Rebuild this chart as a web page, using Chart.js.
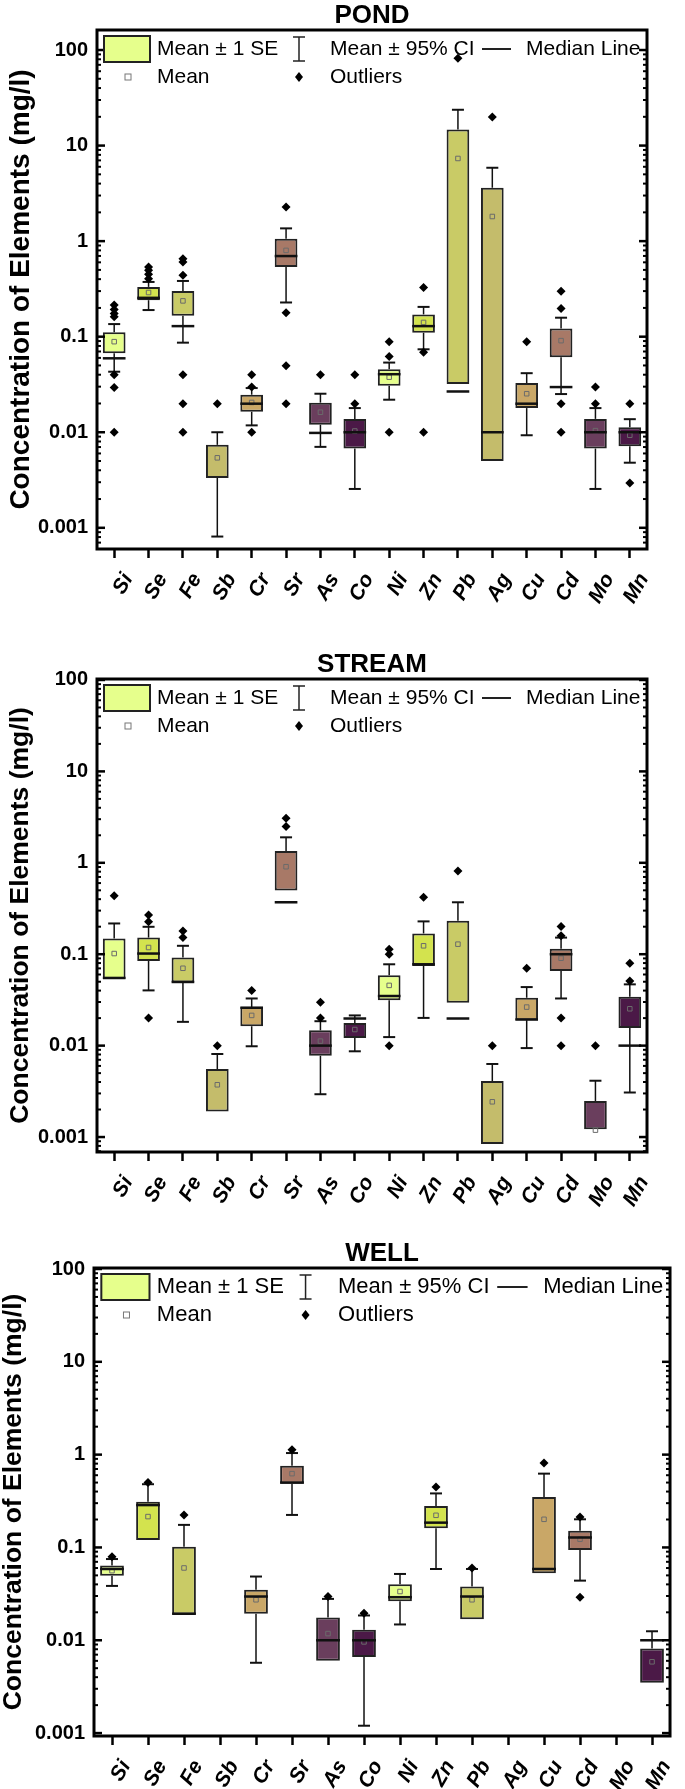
<!DOCTYPE html>
<html lang="en">
<head>
<meta charset="UTF-8">
<title>Concentration of Elements - Pond, Stream, Well</title>
<script src="https://cdn.jsdelivr.net/npm/chart.js"></script>
<style>
  body { margin: 0; background: #fff; }
  #wrap { position: relative; width: 685px; height: 1789px; }
  canvas { position: absolute; left: 0; }
</style>
</head>
<body>
<div id="wrap">
  <canvas id="pond" width="685" height="630" style="top:0px"></canvas>
  <canvas id="stream" width="685" height="600" style="top:630px"></canvas>
  <canvas id="well" width="685" height="559" style="top:1230px"></canvas>
</div>
<script>
const elements = ["Si", "Se", "Fe", "Sb", "Cr", "Sr", "As", "Co", "Ni", "Zn", "Pb", "Ag", "Cu", "Cd", "Mo", "Mn"];
const boxColors = ["#e6ff8c", "#d3e34e", "#c9cb66", "#c4bc6b", "#c9a767", "#a87967", "#6a3e5d", "#4b1947",
                   "#e6ff8c", "#d3e34e", "#c9cb66", "#c4bc6b", "#c9a767", "#a87967", "#6a3e5d", "#4b1947"];

// POND (mg/l)
const pondBoxLo   = [0.067, 0.241, 0.1655, 0.00332, 0.0164, 0.536, 0.012, 0.00676, 0.0306, 0.11, 0.0319, 0.00499, 0.0179, 0.0609, 0.00676, 0.00715];
const pondBoxHi   = [0.111, 0.332, 0.301, 0.00738, 0.0247, 1.06, 0.0204, 0.0138, 0.0457, 0.171, 14.7, 3.62, 0.0327, 0.122, 0.0138, 0.0113];
const pondMedian  = [0.0594, 0.255, 0.129, null, 0.0199, 0.698, 0.00984, 0.01, 0.0405, 0.129, 0.0267, 0.01, 0.0199, 0.0297, 0.01, 0.01];
const pondWhiskLo = [0.043, 0.19, 0.0866, 0.00081, 0.0118, 0.228, 0.00703, 0.00255, 0.0219, 0.0738, null, null, 0.0093, 0.0251, 0.00255, 0.0048];
const pondWhiskHi = [0.1355, 0.374, 0.383, 0.01, 0.029, 1.36, 0.0253, 0.0179, 0.0536, 0.205, 23.7, 5.86, 0.0415, 0.158, 0.0179, 0.0137];
const pondMean    = [0.0887, 0.29, 0.237, 0.0054, 0.0205, 0.8, 0.0162, 0.0103, 0.0377, 0.141, 7.33, 1.81, 0.0253, 0.0909, 0.0104, 0.0093];
const pondOutliers = [
  [0.214, 0.193, 0.175, 0.162, 0.04, 0.0294, 0.01], [0.536, 0.495, 0.449, 0.405], [0.655, 0.604, 0.439, 0.04, 0.0199, 0.01],
  [0.0199], [0.04, 0.0297, 0.01], [2.28, 0.178, 0.0495, 0.0199], [0.04], [0.04, 0.0199], [0.0887, 0.0619, 0.01],
  [0.327, 0.0687, 0.01], [81.9], [19.9], [0.0887], [0.299, 0.197, 0.0199, 0.01], [0.0297, 0.0199], [0.0199, 0.00294]
];

// STREAM (mg/l)
const streamBoxLo   = [0.0531, 0.0845, 0.0489, 0.0019, 0.0163, 0.497, 0.00776, 0.0121, 0.0313, 0.0744, 0.0294, 0.00084, 0.019, 0.0656, 0.00122, 0.0156];
const streamBoxHi   = [0.1486, 0.152, 0.0919, 0.00555, 0.0264, 1.35, 0.0147, 0.0177, 0.0588, 0.1686, 0.232, 0.0041, 0.0334, 0.115, 0.00248, 0.0343];
const streamMedian  = [0.055, 0.1017, 0.0497, null, 0.026, 0.37, 0.01, 0.0198, 0.0349, 0.0776, 0.0198, null, 0.0193, 0.1, null, 0.01];
const streamWhiskLo = [null, 0.0402, 0.0182, null, 0.00984, null, 0.00294, 0.00867, 0.0124, 0.0201, null, null, 0.0094, 0.0328, null, 0.00307];
const streamWhiskHi = [0.217, 0.1995, 0.1236, 0.0081, 0.0328, 1.9, 0.0185, 0.0214, 0.0776, 0.2286, 0.37, 0.0063, 0.0437, 0.152, 0.00413, 0.0468];
const streamMean    = [0.1017, 0.1184, 0.0702, 0.00373, 0.0214, 0.906, 0.0112, 0.015, 0.0456, 0.1236, 0.1288, 0.00243, 0.0264, 0.0904, 0.00119, 0.0253];
const streamOutliers = [
  [0.437], [0.268, 0.227, 0.0201], [0.18, 0.152], [0.01], [0.0402], [3.07, 2.49], [0.0299, 0.0201], [],
  [0.1135, 0.1, 0.01], [0.42], [0.813], [0.01], [0.0702], [0.201, 0.159, 0.0201, 0.01], [0.01], [0.0796, 0.0509]
];

// WELL (mg/l) - no data for Sb, Ag, Mo
const wellBoxLo   = [0.0497, 0.12, 0.019, null, 0.0193, 0.485, 0.006, 0.0066, 0.0264, 0.161, 0.0168, null, 0.0526, 0.0936, null, 0.00349];
const wellBoxHi   = [0.0637, 0.311, 0.1017, null, 0.0351, 0.761, 0.0176, 0.013, 0.0401, 0.279, 0.0379, null, 0.349, 0.151, null, 0.00815];
const wellMedian  = [0.0586, 0.286, 0.0193, null, 0.0296, 0.5, 0.01, 0.01, 0.0291, 0.185, 0.0296, null, 0.0586, 0.128, null, 0.01];
const wellWhiskLo = [0.0385, null, null, null, 0.00572, 0.224, null, 0.0012, 0.0148, 0.0586, null, null, null, 0.0439, null, null];
const wellWhiskHi = [0.075, 0.48, 0.175, null, 0.0486, 1.04, 0.0279, 0.0185, 0.0518, 0.382, 0.0586, null, 0.624, 0.201, null, 0.0125];
const wellMean    = [0.0562, 0.215, 0.0601, null, 0.0273, 0.624, 0.0118, 0.0096, 0.0335, 0.222, 0.0273, null, 0.201, 0.1227, null, 0.00586];
const wellOutliers = [
  [0.0794], [0.5], [0.224], [], [], [1.13], [0.0296], [0.0196], [], [0.447], [0.06], [], [0.813], [0.213, 0.0291], [], []
];

const FONT = '"Liberation Sans", Arial, sans-serif';

function decadeLabel(v) {
  const e = Math.log10(v);
  const r = Math.round(e);
  if (Math.abs(e - r) > 1e-6) return '';
  return r >= 0 ? String(Math.pow(10, r)) : Math.pow(10, r).toFixed(-r);
}

function line(ctx, x1, y1, x2, y2) {
  ctx.beginPath();
  ctx.moveTo(x1, y1);
  ctx.lineTo(x2, y2);
  ctx.stroke();
}

// whiskers, median lines, frame, inward log ticks, title and legend
const boxParts = {
  id: 'boxParts',
  beforeDatasetsDraw(chart, args, o) {
    const {ctx, chartArea} = chart;
    const x = chart.scales.x, y = chart.scales.y;
    ctx.save();
    ctx.beginPath();
    ctx.rect(chartArea.left, chartArea.top, chartArea.width, chartArea.height);
    ctx.clip();
    ctx.strokeStyle = '#111';
    o.whiskHi.forEach((hi, i) => {
      const px = x.getPixelForValue(i);
      const ends = [[o.boxHi[i], hi], [o.boxLo[i], o.whiskLo[i]]];
      ends.forEach(([from, to]) => {
        if (from == null || to == null) return;
        ctx.lineWidth = 1.5;
        line(ctx, px, y.getPixelForValue(from), px, y.getPixelForValue(to));
        ctx.lineWidth = 2;
        line(ctx, px - 6, y.getPixelForValue(to), px + 6, y.getPixelForValue(to));
      });
    });
    ctx.restore();
  },
  afterDatasetsDraw(chart, args, o) {
    const {ctx} = chart;
    const x = chart.scales.x, y = chart.scales.y;
    const bars = chart.getDatasetMeta(2).data;
    ctx.save();
    ctx.strokeStyle = '#111';
    ctx.lineWidth = 2.5;
    o.median.forEach((m, i) => {
      if (m == null) return;
      const px = x.getPixelForValue(i);
      const w = bars[i] && bars[i].width ? bars[i].width : 22;
      const py = y.getPixelForValue(m);
      line(ctx, px - w / 2, py, px + w / 2, py);
    });
    ctx.restore();
  },
  afterDraw(chart, args, o) {
    const {ctx, chartArea: a} = chart;
    const y = chart.scales.y;
    ctx.save();
    // frame
    ctx.strokeStyle = '#000';
    ctx.lineWidth = 3;
    ctx.strokeRect(a.left, a.top, a.width, a.height);
    // inward log ticks on both sides
    const d0 = Math.floor(Math.log10(y.min)), d1 = Math.ceil(Math.log10(y.max));
    for (let d = d0; d <= d1; d++) {
      for (let m = 1; m <= 9; m++) {
        const v = m * Math.pow(10, d);
        if (v < y.min || v > y.max) continue;
        const py = y.getPixelForValue(v);
        const len = m === 1 ? 8 : 4;
        ctx.lineWidth = m === 1 ? 2.5 : 2;
        line(ctx, a.left, py, a.left + len, py);
        line(ctx, a.right - len, py, a.right, py);
      }
    }
    // title
    ctx.fillStyle = '#000';
    ctx.font = 'bold 26px ' + FONT;
    ctx.textAlign = 'center';
    ctx.textBaseline = 'alphabetic';
    ctx.fillText(o.title, (a.left + a.right) / 2, a.top - 7);
    // legend
    const s = a.width / 550, L = a.left, T = a.top;
    const y1 = T + 19, y2 = T + 47;
    ctx.fillStyle = '#e6ff8c';
    ctx.fillRect(L + 7 * s, T + 6, 46 * s, 26);
    ctx.strokeStyle = '#222';
    ctx.lineWidth = 2;
    ctx.strokeRect(L + 7 * s, T + 6, 46 * s, 26);
    ctx.fillStyle = '#000';
    ctx.font = o.legendSize + 'px ' + FONT;
    ctx.textAlign = 'left';
    ctx.textBaseline = 'middle';
    ctx.fillText('Mean \u00b1 1 SE', L + 60 * s, y1);
    const bx = L + 202 * s;
    ctx.lineWidth = 1.5;
    line(ctx, bx, y1 - 12, bx, y1 + 12);
    line(ctx, bx - 6, y1 - 12, bx + 6, y1 - 12);
    line(ctx, bx - 6, y1 + 12, bx + 6, y1 + 12);
    ctx.fillText('Mean \u00b1 95% CI', L + 233 * s, y1);
    ctx.lineWidth = 2;
    line(ctx, L + 385 * s, y1, L + 414 * s, y1);
    ctx.fillText('Median Line', L + 429 * s, y1);
    ctx.strokeStyle = '#777';
    ctx.lineWidth = 1;
    ctx.strokeRect(L + 31 * s - 3, y2 - 3, 6, 6);
    ctx.fillText('Mean', L + 60 * s, y2);
    ctx.fillStyle = '#000';
    ctx.beginPath();
    ctx.moveTo(bx, y2 - 5); ctx.lineTo(bx + 4, y2); ctx.lineTo(bx, y2 + 5); ctx.lineTo(bx - 4, y2);
    ctx.closePath();
    ctx.fill();
    ctx.fillText('Outliers', L + 233 * s, y2);
    ctx.restore();
  }
};

function makePanel(id, p) {
  const outlierPts = p.outliers.flatMap((arr, i) => arr.map(v => ({x: elements[i], y: v})));
  new Chart(document.getElementById(id), {
    type: 'bar',
    data: {
      labels: elements,
      datasets: [
        {
          type: 'line', label: 'Outliers', data: outlierPts, showLine: false, order: 0,
          pointStyle: 'rectRot', pointRadius: 4.5, backgroundColor: '#000', borderColor: '#000', borderWidth: 0
        },
        {
          type: 'line', label: 'Mean', data: p.mean, showLine: false, order: 1,
          pointStyle: 'rect', pointRadius: 3.2, backgroundColor: 'rgba(0,0,0,0)', borderColor: '#6b6b6b', borderWidth: 1
        },
        {
          label: 'Mean \u00b1 1 SE', order: 2,
          data: p.boxLo.map((lo, i) => lo == null ? null : [lo, p.boxHi[i]]),
          backgroundColor: boxColors, borderColor: '#222', borderWidth: 2, borderSkipped: false,
          barPercentage: 0.66, categoryPercentage: 1
        }
      ]
    },
    options: {
      responsive: false,
      animation: false,
      layout: {padding: {top: p.top, right: p.right, left: 0, bottom: 0}},
      plugins: {
        legend: {display: false},
        tooltip: {enabled: false},
        boxParts: {
          title: p.title, legendSize: p.legendSize, median: p.median,
          boxLo: p.boxLo, boxHi: p.boxHi, whiskLo: p.whiskLo, whiskHi: p.whiskHi
        }
      },
      scales: {
        x: {
          type: 'category',
          offset: true,
          afterFit(scale) { scale.height = p.xAxisH; },
          border: {display: false},
          grid: {display: true, drawOnChartArea: false, drawTicks: true, tickLength: 9, tickWidth: 2.5, tickColor: '#000', offset: false},
          ticks: {
            color: '#000', autoSkip: false, minRotation: 60, maxRotation: 60, padding: 11, labelOffset: 14,
            font: {family: FONT, size: 21, weight: 'bold', style: 'italic'}
          }
        },
        y: {
          type: 'logarithmic',
          min: p.yMin, max: p.yMax,
          afterFit(scale) { scale.width = p.left; },
          border: {display: false},
          grid: {display: false, drawTicks: false},
          ticks: {
            color: '#000', autoSkip: false, padding: 9,
            font: {family: FONT, size: 20, weight: 'bold'},
            callback: (v) => decadeLabel(v)
          },
          title: {
            display: true, text: 'Concentration of Elements (mg/l)', color: '#000',
            font: {family: FONT, size: p.yTitleSize, weight: 'bold', lineHeight: 1},
            padding: {top: p.yTitlePad, bottom: 0}
          }
        }
      }
    },
    plugins: [boxParts]
  });
}

makePanel('pond', {
  title: 'POND', boxLo: pondBoxLo, boxHi: pondBoxHi, median: pondMedian, whiskLo: pondWhiskLo, whiskHi: pondWhiskHi,
  mean: pondMean, outliers: pondOutliers,
  left: 97, right: 38, top: 30, xAxisH: 81, yMin: 0.00063, yMax: 162, yTitleSize: 28, yTitlePad: 7, legendSize: 21
});
makePanel('stream', {
  title: 'STREAM', boxLo: streamBoxLo, boxHi: streamBoxHi, median: streamMedian, whiskLo: streamWhiskLo, whiskHi: streamWhiskHi,
  mean: streamMean, outliers: streamOutliers,
  left: 97, right: 38, top: 49, xAxisH: 78, yMin: 0.000686, yMax: 102.5, yTitleSize: 26.5, yTitlePad: 7, legendSize: 21
});
makePanel('well', {
  title: 'WELL', boxLo: wellBoxLo, boxHi: wellBoxHi, median: wellMedian, whiskLo: wellWhiskLo, whiskHi: wellWhiskHi,
  mean: wellMean, outliers: wellOutliers,
  left: 94, right: 3, top: 38, xAxisH: 53, yMin: 0.00093, yMax: 102.5, yTitleSize: 26.5, yTitlePad: 0, legendSize: 22
});
</script>
</body>
</html>
